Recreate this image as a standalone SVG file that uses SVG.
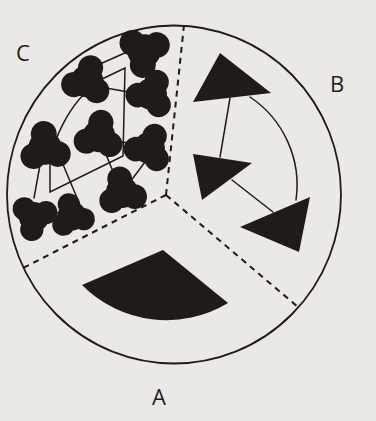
<svg xmlns="http://www.w3.org/2000/svg" width="376" height="421" viewBox="0 0 376 421">
  <defs>
    <style>
      .ink { fill: #1f1b18; }
      .line { fill: none; stroke: #1f1b18; stroke-width: 1.5; stroke-linecap: round; }
      .outer { fill: none; stroke: #1f1b18; stroke-width: 1.8; }
      .dash { fill: none; stroke: #1f1b18; stroke-width: 2; stroke-dasharray: 6 5; }
      .label { font-family: "Open Sans", "Liberation Sans", sans-serif; font-size: 22px; fill: #1f1b18; }
    </style>
    <g id="blob" class="ink">
      <circle cx="0" cy="0" r="15.5"/>
      <circle cx="0" cy="-13" r="12"/>
      <circle cx="11.3" cy="6.5" r="12"/>
      <circle cx="-11.3" cy="6.5" r="12"/>
    </g>
  </defs>

  <rect x="0" y="0" width="376" height="421" fill="#ebe9e6"/>

  <g id="frame">
    <ellipse class="outer" cx="174" cy="194.5" rx="167" ry="169"/>
    <path class="dash" d="M166,195 L184,25"/>
    <path class="dash" d="M166,195 L23,268"/>
    <path class="dash" d="M166,195 L298,307"/>
  </g>

  <g id="connectors">
    <!-- C region -->
    <path class="line" d="M127,52 L100,64"/>
    <path class="line" d="M84,94 Q64,115 53,148"/>
    <path class="line" d="M100,80 L125,68 L123,156 L50,192 L50,160"/>
    <path class="line" d="M106,88 L134,93"/>
    <path class="line" d="M116,142 L136,143"/>
    <path class="line" d="M105,152 L114,174"/>
    <path class="line" d="M148,158 L130,182"/>
    <path class="line" d="M40,165 L34,198"/>
    <path class="line" d="M62,162 L80,205"/>
    <path class="line" d="M48,213 L62,213"/>
    <!-- B region -->
    <path class="line" d="M230,98 L220,157"/>
    <path class="line" d="M232,180 L273,212"/>
    <path class="line" d="M250,97 A106,106 0 0 1 296,200"/>
  </g>

  <g id="A">
    <path class="ink" d="M163,250 L82,285 A119,119 0 0 0 228,303 Z"/>
    <text class="label" x="152" y="405">A</text>
  </g>

  <g id="B">
    <path class="ink" d="M220,53 L193,102 L271,93 Z"/>
    <path class="ink" d="M193,154 L202,200 L252,163 Z"/>
    <path class="ink" d="M310,197 L240,227 L299,252 Z"/>
    <text class="label" x="330" y="92">B</text>
  </g>

  <g id="C">
    <use href="#blob" transform="translate(144,51) rotate(185) scale(1.08)"/>
    <use href="#blob" transform="translate(87,81) rotate(15) scale(1.05)"/>
    <use href="#blob" transform="translate(151,94) rotate(25) scale(1.02)"/>
    <use href="#blob" transform="translate(99,136) rotate(8) scale(1.05)"/>
    <use href="#blob" transform="translate(149,148) rotate(25) scale(1.02)"/>
    <use href="#blob" transform="translate(45,148) rotate(-5) scale(1.08)"/>
    <use href="#blob" transform="translate(122,192) rotate(-10) scale(1.03)"/>
    <use href="#blob" transform="translate(34,217) rotate(190) scale(0.97)"/>
    <use href="#blob" transform="translate(72,216) rotate(-15) scale(0.93)"/>
    <text class="label" x="16" y="61">C</text>
  </g>
</svg>
